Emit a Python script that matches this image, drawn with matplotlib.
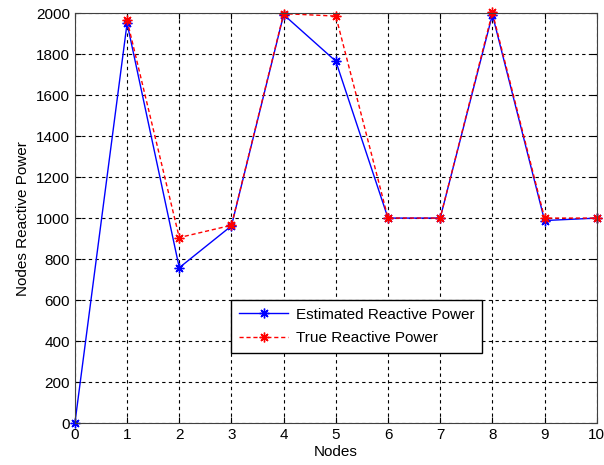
import numpy as np
import matplotlib
matplotlib.use("Agg")
import matplotlib.pyplot as plt

plt.rcParams['font.family'] = ['Liberation Sans', 'DejaVu Sans']

nodes = np.arange(0, 11)
estimated = [0, 1950, 758, 962, 1992, 1765, 1000, 1000, 1992, 988, 1000]
true_power = [np.nan, 1965, 905, 965, 1997, 1985, 1000, 1000, 2003, 1000, 1000]

fig = plt.figure(figsize=(6.04, 4.65), dpi=100)
ax = fig.add_axes([0.124, 0.090, 0.864, 0.882])

star = (8, 2, 0)
ax.plot(nodes, estimated, color='blue', lw=1, marker=star, ms=7, mew=1,
        label='Estimated Reactive Power', clip_on=False)
ax.plot(nodes, true_power, color='red', lw=1, ls=(0, (3, 2)), marker=star, ms=7, mew=1,
        label='True Reactive Power', clip_on=False)

ax.set_xlim(0, 10)
ax.set_ylim(0, 2000)
ax.set_xticks(range(0, 11))
ax.set_yticks(range(0, 2001, 200))
ax.grid(True, color='black', ls=(0, (3, 3)), lw=0.8)
ax.tick_params(direction='in', labelsize=11, top=True, right=True, length=4)
for s in ax.spines.values():
    s.set_color('#404040')

ax.set_xlabel('Nodes', fontsize=11, labelpad=2)
ax.set_ylabel('Nodes Reactive Power', fontsize=11, labelpad=4)

leg = ax.legend(loc='lower left', bbox_to_anchor=(0.30, 0.172), borderaxespad=0,
                fontsize=11, fancybox=False, framealpha=1, edgecolor='black',
                handlelength=3.2, borderpad=0.5, labelspacing=0.6, handletextpad=0.5)
leg.get_frame().set_linewidth(1)

fig.savefig('out.png', dpi=100)
